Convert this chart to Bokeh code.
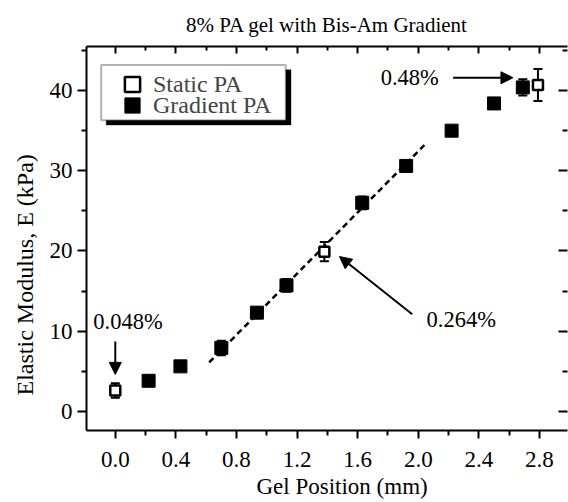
from bokeh.plotting import figure
from bokeh.models import (ColumnDataSource, Whisker, TeeHead, Arrow, NormalHead, Label, Title,
                          LinearAxis, Range1d, FixedTicker, BoxAnnotation, Legend, LegendItem,
                          NumeralTickFormatter)
from bokeh.embed import file_html
from bokeh.resources import INLINE

# ---- data ----
static_x = [0.0, 1.38, 2.79]
static_y = [2.6, 19.9, 40.7]
static_err = [0.9, 1.2, 2.0]

grad_x = [0.22, 0.43, 0.70, 0.935, 1.13, 1.63, 1.92, 2.22, 2.50, 2.69]
grad_y = [3.8, 5.6, 7.9, 12.3, 15.7, 26.0, 30.6, 35.0, 38.4, 40.4]
grad_err = [0.5, 0.4, 0.9, 0.6, 0.8, 0.8, 0.6, 0.4, 0.4, 1.0]

fit_x = [0.62, 2.04]
fit_y = [6.1, 33.2]

x_ticks = [0.0, 0.4, 0.8, 1.2, 1.6, 2.0, 2.4, 2.8]
x_minor = [0.2, 0.6, 1.0, 1.4, 1.8, 2.2, 2.6]
y_ticks = [0, 10, 20, 30, 40]
y_minor = [5, 15, 25, 35, 45]

FONT = "Liberation Serif"

p = figure(width=568, height=502, output_backend="svg", toolbar_location=None,
           x_range=Range1d(-0.19, 2.985), y_range=Range1d(-2.4, 45.5),
           min_border_left=86, min_border_right=1, min_border_top=43, min_border_bottom=72)
p.outline_line_color = None
p.grid.visible = False
p.background_fill_color = "white"
p.border_fill_color = "white"

# title
p.title.text = "8% PA gel with Bis-Am Gradient"
p.title.align = "center"
p.title.text_font = FONT
p.title.text_font_size = "21px"
p.title.text_font_style = "normal"
p.title.text_color = "black"
p.title.standoff = 20

def style_axis(ax, tin, tout, labels=True):
    ax.axis_line_width = 2
    ax.axis_line_color = "black"
    ax.major_tick_line_width = 2
    ax.minor_tick_line_width = 2
    ax.major_tick_in = tin[0]
    ax.major_tick_out = tout[0]
    ax.minor_tick_in = tin[1]
    ax.minor_tick_out = tout[1]
    ax.major_label_text_font = FONT
    ax.major_label_text_font_size = "23px"
    ax.major_label_text_color = "black"
    if not labels:
        ax.major_label_text_font_size = "0px"
        ax.major_label_text_alpha = 0
        ax.major_label_standoff = 0

xb = p.xaxis[0]
xb.ticker = FixedTicker(ticks=x_ticks, minor_ticks=x_minor)
xb.formatter = NumeralTickFormatter(format="0.0")
style_axis(xb, (0, 0), (8, 5))
xb.major_label_standoff = 13

yl = p.yaxis[0]
yl.ticker = FixedTicker(ticks=y_ticks, minor_ticks=y_minor)
style_axis(yl, (0, 0), (9, 5))
yl.major_label_standoff = 5

xt = LinearAxis(ticker=FixedTicker(ticks=x_ticks, minor_ticks=x_minor))
style_axis(xt, (7, 4), (0, 0), labels=False)
p.add_layout(xt, "above")

yr = LinearAxis(ticker=FixedTicker(ticks=y_ticks, minor_ticks=y_minor))
style_axis(yr, (9, 5), (0, 0), labels=False)
yr.axis_line_color = None
p.add_layout(yr, "right")

# axis titles
xlab = Title(text="Gel Position (mm)", align="left", offset=170, standoff=4,
             text_font=FONT, text_font_size="23px", text_font_style="normal", text_color="black")
p.add_layout(xlab, "below")
ylab = Title(text="Elastic Modulus, E (kPa)", align="left", offset=35, standoff=18,
             text_font=FONT, text_font_size="24px", text_font_style="normal", text_color="black")
p.add_layout(ylab, "left")

# fit line
p.line(fit_x, fit_y, line_color="black", line_width=2.5, line_dash="6 4")

# error bars
s_src = ColumnDataSource(dict(x=static_x, y=static_y,
                              lo=[a - b for a, b in zip(static_y, static_err)],
                              hi=[a + b for a, b in zip(static_y, static_err)]))
g_src = ColumnDataSource(dict(x=grad_x, y=grad_y,
                              lo=[a - b for a, b in zip(grad_y, grad_err)],
                              hi=[a + b for a, b in zip(grad_y, grad_err)]))
for src in (g_src, s_src):
    w = Whisker(source=src, base="x", upper="hi", lower="lo", line_width=2, line_color="black",
                upper_head=TeeHead(size=9, line_width=2, line_color="black"),
                lower_head=TeeHead(size=9, line_width=2, line_color="black"))
    p.add_layout(w)

r_grad = p.scatter("x", "y", source=g_src, marker="square", size=13,
                   fill_color="black", line_color="black")
r_stat = p.scatter("x", "y", source=s_src, marker="square", size=10,
                   fill_color="white", line_color="black", line_width=2.5)

# legend box with drop shadow (data units)
shadow = BoxAnnotation(left=-0.06, right=1.16, top=42.6, bottom=35.7, level="underlay",
                       fill_color="black", fill_alpha=1.0, line_color="black", line_width=1)
p.add_layout(shadow)
p.add_layout(BoxAnnotation(left=-0.093, right=1.125, top=43.2, bottom=36.3,
                           fill_color="white", fill_alpha=1.0, line_color="black", line_width=2))

def make_legend(label, rend, loc):
    return Legend(items=[LegendItem(label=label, renderers=[rend])],
                  location=loc, padding=0, margin=0, spacing=0,
                  glyph_width=42, glyph_height=38, label_standoff=0,
                  label_text_font=FONT, label_text_font_size="24px",
                  border_line_color=None, background_fill_alpha=0)

p.add_layout(make_legend("Static PA", r_stat, (25, 327)))
p.add_layout(make_legend("Gradient PA", r_grad, (25, 306)))

# annotations: arrows and texts
ann_font = "22.5px"
p.add_layout(Arrow(end=NormalHead(size=12, fill_color="black", line_color="black"),
                   x_start=0.0, y_start=8.7, x_end=0.0, y_end=4.6,
                   line_width=2, line_color="black"))
p.add_layout(Arrow(end=NormalHead(size=12, fill_color="black", line_color="black"),
                   x_start=1.96, y_start=12.1, x_end=1.48, y_end=19.3,
                   line_width=2, line_color="black"))
p.add_layout(Arrow(end=NormalHead(size=12, fill_color="black", line_color="black"),
                   x_start=2.23, y_start=41.6, x_end=2.625, y_end=41.6,
                   line_width=2, line_color="black"))
for tx, ty, t in [(-0.145, 11.2, "0.048%"), (2.055, 11.45, "0.264%"), (1.752, 41.6, "0.48%")]:
    p.add_layout(Label(x=tx, y=ty, text=t, text_font=FONT, text_font_size=ann_font,
                       text_align="left", text_baseline="middle", text_color="black"))

open("out.html", "w").write(file_html(p, INLINE))
